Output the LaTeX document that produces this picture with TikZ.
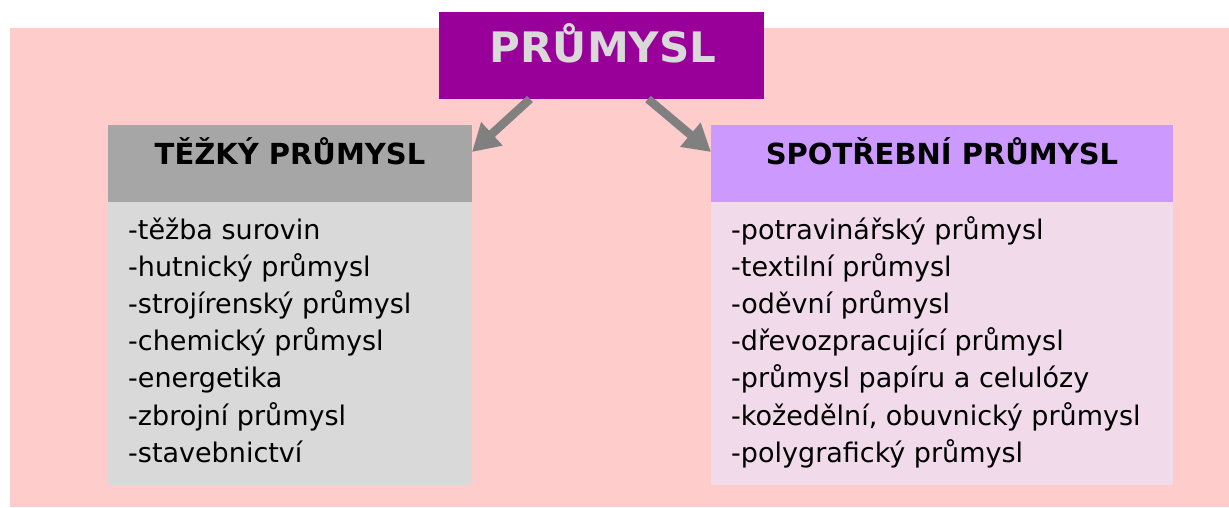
\documentclass[tikz,border=0pt]{standalone}
\usepackage{fontspec}
\setmainfont{DejaVu Sans}
\usetikzlibrary{positioning,calc,arrows.meta}

\definecolor{bgpink}{HTML}{FFCCCC}
\definecolor{topviolet}{HTML}{990099}
\definecolor{toptext}{HTML}{D9D9D9}
\definecolor{heavyhead}{HTML}{A6A6A6}
\definecolor{heavybody}{HTML}{D9D9D9}
\definecolor{lighthead}{HTML}{CC99FF}
\definecolor{lightbody}{HTML}{F1DAEA}
\definecolor{arrowgray}{HTML}{808080}

\begin{document}
\begin{tikzpicture}[x=1pt, y=-1pt,
box/.style={anchor=north west, inner sep=0pt, outer sep=0pt},
headtext/.style={anchor=base, inner sep=0pt, font=\fontsize{29}{32}\selectfont\bfseries},
item/.style={anchor=base west, inner sep=0pt, font=\fontsize{27}{30}\selectfont},
branch/.style={arrowgray, line width=8.5pt, -{Triangle[length=27pt, width=30pt]}}]

\useasboundingbox (0,0) rectangle (1229,507);
\fill[bgpink] (10,28) rectangle (1229,507);

% top node
\node[box, fill=topviolet, minimum width=325pt, minimum height=87pt] (top) at (439,12) {};
\node[anchor=base, inner sep=0pt, text=toptext, font=\fontsize{42}{44}\selectfont\bfseries] (toplabel) at (603,62) {PRŮMYSL};

% left column
\node[box, fill=heavyhead, minimum width=364pt, minimum height=77pt] (heavy) at (108,125) {};
\node[headtext] (heavylabel) at (290,164) {TĚŽKÝ PRŮMYSL};
\node[box, fill=heavybody, minimum width=364pt, minimum height=283pt] (heavylist) at (108,202) {};
\foreach \txt [count=\i from 0] in {-těžba surovin, -hutnický průmysl, -strojírenský průmysl,
  -chemický průmysl, -energetika, -zbrojní průmysl, -stavebnictví}
  \node[item] (heavy\i) at (128,239+37.2*\i) {\txt};

% right column
\node[box, fill=lighthead, minimum width=462pt, minimum height=77pt] (light) at (711,125) {};
\node[headtext] (lightlabel) at (942,164) {SPOTŘEBNÍ PRŮMYSL};
\node[box, fill=lightbody, minimum width=462pt, minimum height=283pt] (lightlist) at (711,202) {};
\foreach \txt [count=\i from 0] in {-potravinářský průmysl, -textilní průmysl, -oděvní průmysl,
  -dřevozpracující průmysl, -průmysl papíru a celulózy, {-kožedělní, obuvnický průmysl},
  -polygrafický průmysl}
  \node[item] (light\i) at (731,239+37.2*\i) {\txt};

% arrows
\coordinate (lstart) at ($(top.south west)+(91,0)$);
\coordinate (rstart) at ($(top.south west)+(209,0)$);
\draw[branch] (lstart) -- ($(heavy.north east)+(0,27)$);
\draw[branch] (rstart) -- ($(light.north west)+(0,27)$);

\end{tikzpicture}
\end{document}
